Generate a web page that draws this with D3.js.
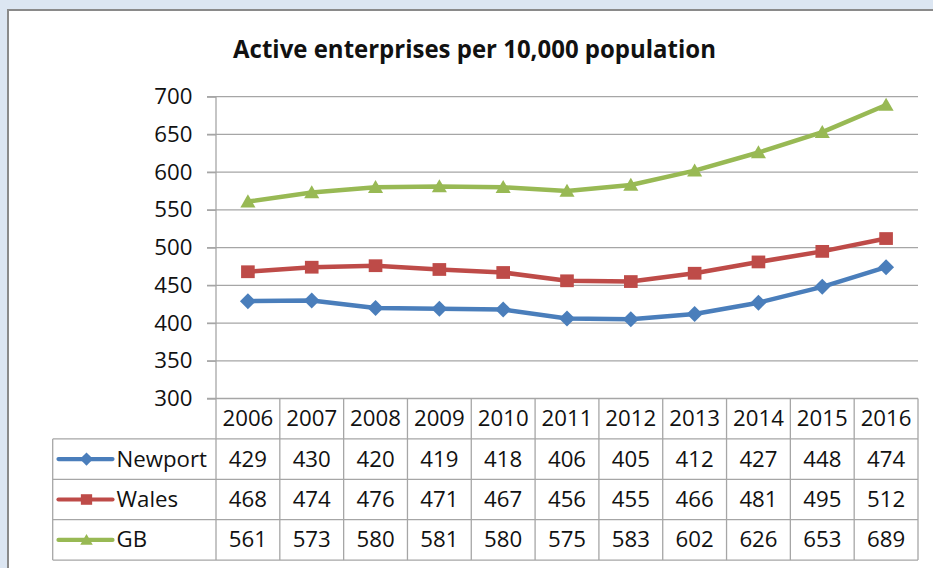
<!DOCTYPE html>
<html><head><meta charset="utf-8">
<script src="https://cdn.jsdelivr.net/npm/d3@7"></script>
<style>html,body{margin:0;padding:0;background:#dce6f2;}svg{display:block;}</style>
</head><body>
<svg id="chart" width="933" height="568"></svg>
<script>
const title = "Active enterprises per 10,000 population";
const years = ["2006","2007","2008","2009","2010","2011","2012","2013","2014","2015","2016"];
const newport = [429,430,420,419,418,406,405,412,427,448,474];
const wales = [468,474,476,471,467,456,455,466,481,495,512];
const gb = [561,573,580,581,580,575,583,602,626,653,689];
const yTicks = [300,350,400,450,500,550,600,650,700];
const seriesNames = ["Newport","Wales","GB"];
const seriesColors = ["#4a7ebb","#be4b48","#98b954"];
const seriesMarkers = ["diamond","square","triangle"];
const series = [newport, wales, gb];

const svg = d3.select("#chart");
const FONT = "'Open Sans', sans-serif";
const SX = 1.06;
const FS = 21;
const gridColor = "#a6a6a6";

// frame
svg.append("rect").attr("x",0).attr("y",0).attr("width",933).attr("height",568).attr("fill","#dce6f2");
svg.append("rect").attr("x",8).attr("y",10).attr("width",940).attr("height",580).attr("fill","#fff")
  .attr("stroke","#8a8a8a").attr("stroke-width",2);

const pLeft = 216, pRight = 918, pTop = 96.7, pBottom = 398.5;
const x = d3.scaleBand().domain(years).range([pLeft, pRight]);
const y = d3.scaleLinear().domain([300,700]).range([pBottom, pTop]);

function txt(g, tx, ty, s, anchor, size, weight, sx) {
  return g.append("text")
    .attr("transform", `translate(${tx},${ty}) scale(${sx||SX},1)`)
    .attr("text-anchor", anchor).attr("font-family", FONT)
    .attr("font-size", size).attr("font-weight", weight||400)
    .attr("fill", "#111").text(s);
}

// title
const t = txt(svg, 474.5, 57.5, title, "middle", 25.5, 700, 1);
const tw = t.node().getComputedTextLength();
t.attr("transform", `translate(474.5,57.5) scale(${483/tw},1)`);

// gridlines
svg.append("g").selectAll("line").data(yTicks).join("line")
  .attr("x1", pLeft - 9).attr("x2", pRight)
  .attr("y1", d => y(d)).attr("y2", d => y(d))
  .attr("stroke", gridColor).attr("stroke-width", 1.3);

// y axis via d3 axis (ticks), labels custom
const ax = svg.append("g").attr("transform", `translate(${pLeft},0)`)
  .call(d3.axisLeft(y).tickValues(yTicks).tickSize(9).tickFormat(""));
ax.selectAll("line").attr("stroke", gridColor).attr("stroke-width", 1.3);
ax.select("path").remove();
svg.append("line").attr("x1",pLeft).attr("x2",pLeft).attr("y1",pTop).attr("y2",560)
  .attr("stroke",gridColor).attr("stroke-width",1.3);
yTicks.forEach(v => txt(svg, 192.5, y(v) + 7.5, String(v), "end", FS));

// table
const rowTop = pBottom, rowH = 40.4, legLeft = 52.7;
const tg = svg.append("g");
[1,2,3,4].forEach(i => {
  tg.append("line").attr("x1", legLeft).attr("x2", pRight)
    .attr("y1", rowTop + i*rowH).attr("y2", rowTop + i*rowH)
    .attr("stroke", gridColor).attr("stroke-width", 1.3);
});
years.forEach(yr => {
  tg.append("line").attr("x1", x(yr) + x.bandwidth()).attr("x2", x(yr) + x.bandwidth())
    .attr("y1", rowTop).attr("y2", rowTop + 4*rowH)
    .attr("stroke", gridColor).attr("stroke-width", 1.3);
  txt(tg, x(yr) + x.bandwidth()/2, rowTop + rowH/2 + 7.5, yr, "middle", FS);
});
tg.append("line").attr("x1", legLeft).attr("x2", legLeft)
  .attr("y1", rowTop + rowH).attr("y2", rowTop + 4*rowH)
  .attr("stroke", gridColor).attr("stroke-width", 1.3);

function marker(g, type, cx, cy, color, s) {
  if (type === "diamond") {
    g.append("path").attr("d", `M${cx},${cy - s*0.55}L${cx + s*0.55},${cy}L${cx},${cy + s*0.55}L${cx - s*0.55},${cy}Z`).attr("fill", color);
  } else if (type === "square") {
    g.append("rect").attr("x", cx - s*0.47).attr("y", cy - s*0.44).attr("width", s*0.94).attr("height", s*0.88).attr("fill", color);
  } else {
    g.append("path").attr("d", `M${cx},${cy - s*0.5}L${cx + s*0.52},${cy + s*0.4}L${cx - s*0.52},${cy + s*0.4}Z`).attr("fill", color);
  }
}

series.forEach((vals, si) => {
  const cy = rowTop + (si + 1.5) * rowH;
  const color = seriesColors[si];
  tg.append("line").attr("x1", 58.5).attr("x2", 112.5).attr("y1", cy).attr("y2", cy)
    .attr("stroke", color).attr("stroke-width", 4.2).attr("stroke-linecap","round");
  marker(tg, seriesMarkers[si], 86.5, cy, color, 12);
  txt(tg, 116.5, cy + 7.5, seriesNames[si], "start", FS);
  vals.forEach((v, i) => {
    txt(tg, x(years[i]) + x.bandwidth()/2, cy + 7.5, String(v), "middle", FS);
  });
});

// lines
const line = d3.line().x((d,i) => x(years[i]) + x.bandwidth()/2).y(d => y(d));
const lg = svg.append("g");
series.forEach((vals, si) => {
  lg.append("path").datum(vals).attr("d", line).attr("fill","none")
    .attr("stroke", seriesColors[si]).attr("stroke-width", 4.5).attr("stroke-linejoin","round");
  vals.forEach((v, i) => marker(lg, seriesMarkers[si], x(years[i]) + x.bandwidth()/2, y(v), seriesColors[si], 14.5));
});
</script>
</body></html>
